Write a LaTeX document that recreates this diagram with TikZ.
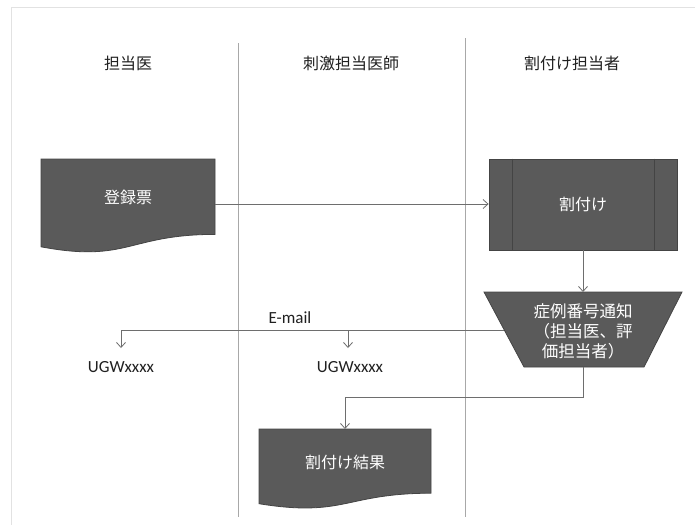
\documentclass[tikz,border=0pt]{standalone}
\usepackage{fontspec}
\setmainfont{Carlito}
\newfontfamily\jp{Noto Sans CJK JP}
\usetikzlibrary{arrows.meta}
\definecolor{shapefill}{HTML}{5A5A5A}
\definecolor{shapeedge}{HTML}{444444}
\definecolor{linegray}{HTML}{6E6E6E}
\definecolor{lanegray}{HTML}{A8A8A8}
\definecolor{framegray}{HTML}{E2E2E2}
\definecolor{txt}{HTML}{202020}
\tikzset{
  shapestyle/.style={fill=shapefill, draw=shapeedge, line width=0.8pt},
  shapetext/.style={text=white, font=\jp\fontsize{16}{20}\selectfont, align=center},
  hdr/.style={text=txt, font=\jp\fontsize{16}{20}\selectfont},
  lbl/.style={text=txt, font=\fontsize{17}{20}\selectfont},
  conn/.style={draw=linegray, line width=0.8pt},
  arr/.style={conn, -{Straight Barb[length=5pt,width=9pt]}},
  lane/.style={draw=lanegray, line width=1pt},
  ghost/.style={inner sep=0pt, outer sep=0pt, minimum width=#1},
}
\begin{document}
\begin{tikzpicture}[x=1pt,y=-1pt]
\useasboundingbox (0,0) rectangle (695,525);
\fill[white] (0,0) rectangle (695,525);
% faint frame
\draw[framegray, line width=1pt] (11,525) -- (11,7) -- (695,7);
% lanes
\draw[lane] (238,43) -- (238,517);
\draw[lane] (465,38) -- (465,517);
\node[hdr] (h1) at (128,63) {担当医};
\node[hdr] (h2) at (351,63) {刺激担当医師};
\node[hdr] (h3) at (572,63) {割付け担当者};

% 登録票 (document)
\fill[shapestyle] (41,159) -- (215,159) -- (215,234.4)
  .. controls (128,234.4) and (128,263.1) .. (41,246.8) -- cycle;
\node[ghost=174pt, minimum height=90pt] (reg) at (128,204) {};
\node[shapetext] (regt) at (128,197) {登録票};

% 割付け (predefined process)
\node[shapestyle, minimum width=188pt, minimum height=91pt, inner sep=0pt] (wari) at (583,204.5) {};
\draw[shapeedge, line width=0.8pt] ([xshift=24pt]wari.north west) -- ([xshift=24pt]wari.south west);
\draw[shapeedge, line width=0.8pt] ([xshift=-23pt]wari.north east) -- ([xshift=-23pt]wari.south east);
\node[shapetext] at (wari.center) {割付け};

% 症例番号通知 (manual operation trapezoid)
\fill[shapestyle] (484,292) -- (682,292) -- (644,367) -- (524,367) -- cycle;
\coordinate (tztop) at (583,292);
\coordinate (tzleft) at (504,330);
\coordinate (tzbot) at (583,367);
\node[shapetext, font=\jp\fontsize{16.5}{20}\selectfont] (tz) at (583,331) {症例番号通知\\（担当医、評\\価担当者）};

% 割付け結果 (document)
\fill[shapestyle] (259,429) -- (431,429) -- (431,493.2)
  .. controls (345,493.2) and (345,517.6) .. (259,503.7) -- cycle;
\node[ghost=172pt, minimum height=64pt] (res) at (345,461) {};
\node[shapetext] (rest) at (345,462) {割付け結果};

% labels
\node[lbl] (email) at (290,318) {E-mail};
\node[lbl] (ugw1) at (121,367) {UGWxxxx};
\node[lbl] (ugw2) at (350,367) {UGWxxxx};
\coordinate (tip1) at (121,348);
\coordinate (tip2) at (348,348);
\coordinate (br2) at (348,330);
\coordinate (turn) at (345,397);

% connectors
\draw[arr] (reg.east) -- (reg.east -| wari.west);
\draw[arr] (wari.south -| tztop) -- (tztop);
\draw[arr] (tzleft) -| (tip1);
\draw[arr] (br2) -- (tip2);
\draw[conn] (tzbot) |- (turn);
\draw[arr] (turn) -- (res.north);
\end{tikzpicture}
\end{document}
